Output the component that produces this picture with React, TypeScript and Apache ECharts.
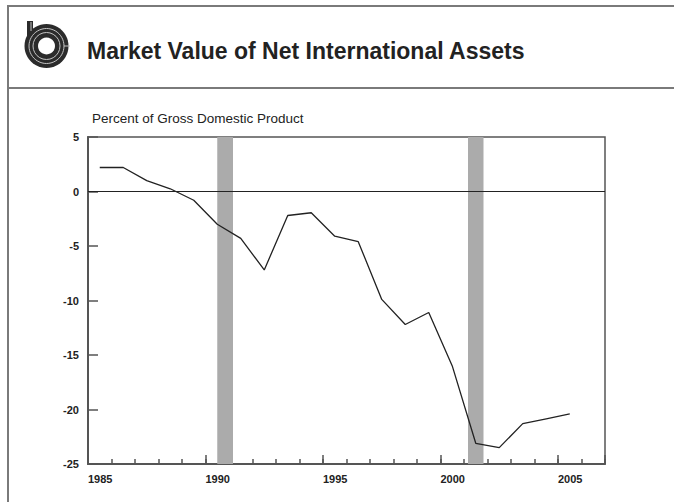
import React, { useEffect, useRef } from "react";
import * as echarts from "echarts";

const years = [1985, 1986, 1987, 1988, 1989, 1990, 1991, 1992, 1993, 1994, 1995, 1996, 1997, 1998, 1999, 2000, 2001, 2002, 2003, 2004, 2005];
const values = [2.2, 2.2, 1.0, 0.25, -0.8, -3.0, -4.3, -7.2, -2.2, -1.95, -4.1, -4.6, -9.9, -12.2, -11.1, -16.0, -23.1, -23.5, -21.3, -20.85, -20.4];
const recessions = [
  [1990.5, 1991.17],
  [2001.17, 2001.83],
];
const xMin = 1985;
const xMax = 2007;
const yMin = -25;
const yMax = 5;
const titleText = "Market Value of Net International Assets";
const unitText = "Percent of Gross Domestic Product";

const FONT = '"Liberation Sans", Arial, Helvetica, sans-serif';

export default function App() {
  const ref = useRef<HTMLDivElement>(null);

  useEffect(() => {
    if (!ref.current) return;
    const chart = echarts.init(ref.current, undefined, { renderer: "svg" });
    const dark = "#2b2b2b";
    const light = "#c4c4c4";
    const option: any = {
      animation: false,
      backgroundColor: "#ffffff",
      grid: {
        left: 88,
        right: 69,
        top: 137,
        bottom: 38,
        show: true,
        borderColor: "#555",
        borderWidth: 1.5,
      },
      xAxis: [
        {
          type: "value",
          min: xMin,
          max: xMax,
          interval: 1,
          position: "bottom",
          axisLine: { show: true, onZero: false, lineStyle: { color: "#555", width: 2 } },
          axisTick: { show: true, inside: true, length: 5, lineStyle: { color: "#555", width: 1.5 } },
          axisLabel: { show: false },
          splitLine: { show: false },
        },
        {
          type: "value",
          min: xMin,
          max: xMax,
          interval: 5,
          position: "bottom",
          axisLine: { show: false, onZero: false },
          axisTick: { show: true, inside: true, length: 9, lineStyle: { color: "#555", width: 1.5 } },
          axisLabel: {
            show: true,
            formatter: (v: number) => (v % 5 === 0 && v <= 2005 ? String(v) : ""),
            align: "left",
            margin: 9,
            fontWeight: "bold",
            fontSize: 11,
            fontFamily: FONT,
            color: "#222",
          },
          splitLine: { show: false },
        },
      ],
      yAxis: {
        type: "value",
        min: yMin,
        max: yMax,
        interval: 5,
        axisLine: { show: true, onZero: false, lineStyle: { color: "#555", width: 2 } },
        axisTick: { show: true, inside: true, length: 10, lineStyle: { color: "#555", width: 1.5 } },
        axisLabel: {
          fontWeight: "bold",
          fontSize: 11,
          fontFamily: FONT,
          color: "#222",
          margin: 9,
        },
        splitLine: { show: false },
      },
      series: [
        {
          type: "line",
          xAxisIndex: 0,
          data: years.map((y, i) => [y + 0.5, values[i]]),
          symbol: "none",
          showSymbol: false,
          lineStyle: { color: "#222", width: 1.3 },
          markArea: {
            silent: true,
            itemStyle: { color: "#ababab" },
            data: recessions.map(([a, b]) => [{ xAxis: a }, { xAxis: b }]),
          },
          markLine: {
            silent: true,
            symbol: "none",
            label: { show: false },
            lineStyle: { color: "#222", width: 1, type: "solid" },
            data: [{ yAxis: 0 }],
          },
        },
      ],
      graphic: [
        { type: "line", shape: { x1: 8, y1: 6, x2: 674, y2: 6 }, style: { stroke: "#7a7a7a", lineWidth: 2 } },
        { type: "line", shape: { x1: 8, y1: 5, x2: 8, y2: 502 }, style: { stroke: "#7a7a7a", lineWidth: 2 } },
        { type: "line", shape: { x1: 8, y1: 88, x2: 674, y2: 88 }, style: { stroke: "#7a7a7a", lineWidth: 2 } },
        {
          type: "group",
          children: [
            { type: "rect", shape: { x: 27, y: 21, width: 6, height: 22 }, style: { fill: dark } },
            { type: "circle", shape: { cx: 46.5, cy: 46, r: 22 }, style: { fill: dark } },
            { type: "circle", shape: { cx: 46.5, cy: 46, r: 17.5 }, style: { fill: "none", stroke: light, lineWidth: 1 } },
            { type: "circle", shape: { cx: 46.5, cy: 46, r: 13.5 }, style: { fill: "none", stroke: light, lineWidth: 1 } },
            { type: "circle", shape: { cx: 46.5, cy: 46, r: 8.5 }, style: { fill: "#ffffff" } },
            { type: "line", shape: { x1: 31, y1: 22, x2: 31, y2: 31 }, style: { stroke: light, lineWidth: 1 } },
            { type: "line", shape: { x1: 64, y1: 46, x2: 70, y2: 46 }, style: { stroke: light, lineWidth: 1 } },
          ],
        },
        {
          type: "text",
          x: 87,
          y: 51,
          style: {
            text: titleText,
            fontSize: 23,
            fontWeight: "bold",
            fontFamily: FONT,
            fill: "#222",
            verticalAlign: "middle",
          },
        },
        {
          type: "text",
          x: 92,
          y: 118,
          style: {
            text: unitText,
            fontSize: 13.5,
            fontFamily: FONT,
            fill: "#222",
            verticalAlign: "middle",
          },
        },
      ],
    };
    chart.setOption(option);
    return () => chart.dispose();
  }, []);

  return (
    <div
      ref={ref}
      style={{ position: "absolute", left: 0, top: 0, width: 674, height: 502, background: "#fff" }}
    />
  );
}
